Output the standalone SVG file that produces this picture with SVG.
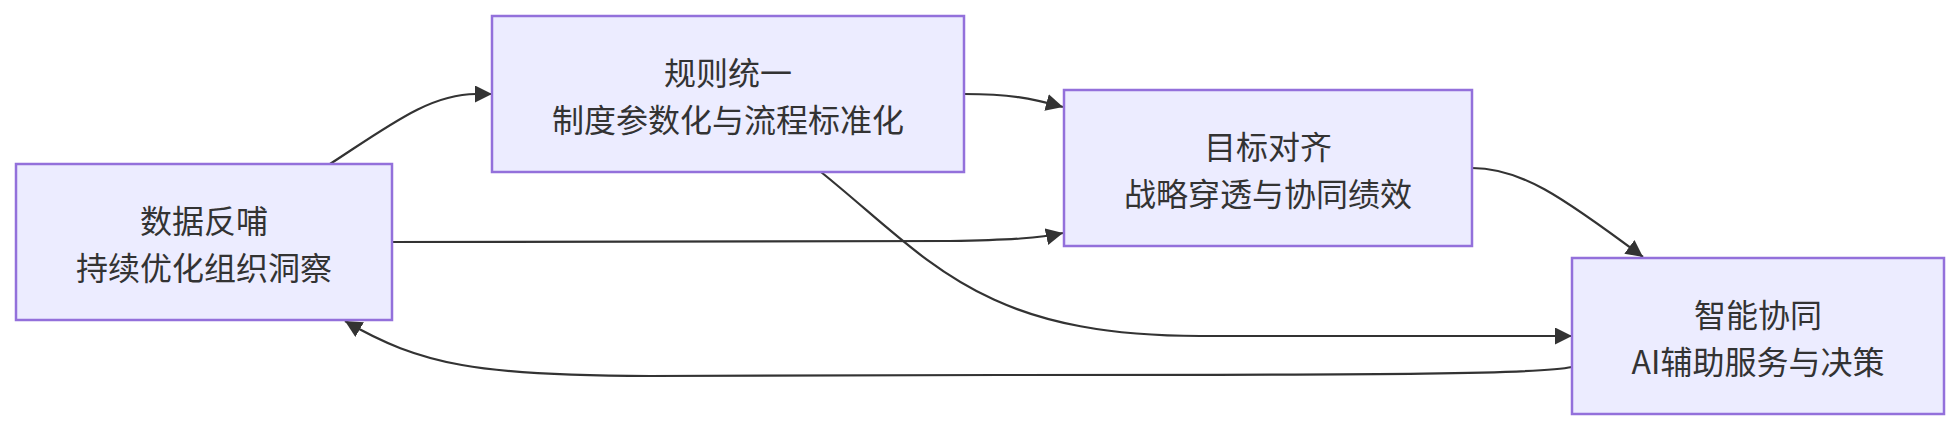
<svg xmlns="http://www.w3.org/2000/svg" width="1959" height="430" viewBox="0 0 1959 430">
<style>
.node rect{fill:#ECECFF;stroke:#9370DB;stroke-width:2.5}
.node text{font-family:"Noto Sans CJK SC","Noto Sans",sans-serif;font-size:32px;fill:#333333;text-anchor:middle;dominant-baseline:central}
.edge{fill:none;stroke:#333333;stroke-width:2.2}
</style>
<defs>
<marker id="arr" viewBox="0 0 10 10" refX="10" refY="5" markerUnits="userSpaceOnUse" markerWidth="17" markerHeight="17" orient="auto">
<path d="M0,0 L10,5 L0,10 z" fill="#333333"/>
</marker>
</defs>
<rect width="1959" height="430" fill="#ffffff"/>
<g id="connectors">
<path class="edge" marker-end="url(#arr)" d="M330,164 C390,125 430,94 476,94 L492,94"/>
<path class="edge" marker-end="url(#arr)" d="M964,94 C1010,94 1030,98 1063,107"/>
<path class="edge" marker-end="url(#arr)" d="M392,242 L950,241 C1010,240 1040,238 1063,233"/>
<path class="edge" marker-end="url(#arr)" d="M821,172 C930,260 980,336 1200,336 L1572,336"/>
<path class="edge" marker-end="url(#arr)" d="M1572,367 C1540,374 1400,375 1000,375 L650,376 C480,376 420,365 345,321"/>
<path class="edge" marker-end="url(#arr)" d="M1472,168 C1520,168 1560,195 1643,257"/>
</g>
<g id="node-data" class="node">
<rect x="16" y="164" width="376" height="156"/>
<text x="204" y="219">数据反哺</text>
<text x="204" y="266">持续优化组织洞察</text>
</g>
<g id="node-rules" class="node">
<rect x="492" y="16" width="472" height="156"/>
<text x="728" y="71">规则统一</text>
<text x="728" y="118">制度参数化与流程标准化</text>
</g>
<g id="node-goal" class="node">
<rect x="1064" y="90" width="408" height="156"/>
<text x="1268" y="145">目标对齐</text>
<text x="1268" y="192">战略穿透与协同绩效</text>
</g>
<g id="node-ai" class="node">
<rect x="1572" y="258" width="372" height="156"/>
<text x="1758" y="313">智能协同</text>
<text x="1758" y="360">AI辅助服务与决策</text>
</g>
</svg>
